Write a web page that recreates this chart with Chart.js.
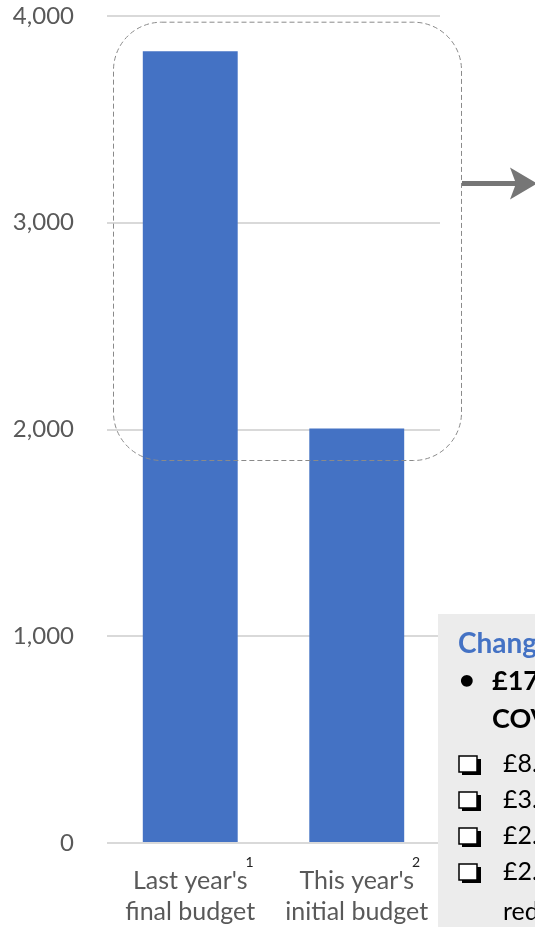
<!DOCTYPE html>
<html>
<head>
<meta charset="utf-8">
<script src="https://cdn.jsdelivr.net/npm/chart.js@4.4.0/dist/chart.umd.min.js"></script>
<style>
  html, body { margin: 0; padding: 0; background: #fff; }
  canvas { display: block; }
</style>
</head>
<body>
<canvas id="budgetChart" width="535" height="927"></canvas>
<script>
// chart data
const categories = [["Last year's", "final budget"], ["This year's", "initial budget"]];
const footnotes = ["1", "2"];
const budgetValues = [3830, 2005];
const yTicks = [0, 1000, 2000, 3000, 4000];

// side note text (runs off the right edge like in the original)
const noteTitle = "Changes this year";
const noteBullet = ["£17.4m less", "COVID-19 funding"];
const noteItems = [["£8.1m savings"], ["£3.2m one-off"], ["£2.5m reserves"], ["£2.1m grant", "reduction"]];

const mainFont = "Lato, 'Noto Sans', sans-serif";
const barBlue = "#4472c4";

// draws footnote marks, the dashed callout, the arrow and the grey note box
const extras = {
  id: "extras",
  afterDraw(chart) {
    const ctx = chart.ctx;
    const x = chart.scales.x;
    const y = chart.scales.y;

    // superscript footnote numbers after the first label line
    ctx.save();
    ctx.fillStyle = "#222";
    ctx.textBaseline = "middle";
    ctx.font = "25px " + mainFont;
    const widths = categories.map(c => ctx.measureText(c[0]).width);
    ctx.font = "14px " + mainFont;
    footnotes.forEach((f, i) => {
      const cx = x.getPixelForTick(i);
      ctx.fillText(f, cx + widths[i] / 2 - 2, 862);
    });
    ctx.restore();

    // dashed rounded callout around the tops of the bars
    const top = y.getPixelForValue(3970);
    const bottom = y.getPixelForValue(1850);
    ctx.save();
    ctx.strokeStyle = "#8a8a8a";
    ctx.lineWidth = 1;
    ctx.setLineDash([5, 3]);
    ctx.beginPath();
    ctx.roundRect(113.5, top, 348, bottom - top, 48);
    ctx.stroke();
    ctx.restore();

    // arrow pointing right
    const ay = y.getPixelForValue(3190);
    ctx.save();
    ctx.strokeStyle = "#767676";
    ctx.fillStyle = "#767676";
    ctx.lineWidth = 5;
    ctx.beginPath();
    ctx.moveTo(462, ay);
    ctx.lineTo(524, ay);
    ctx.stroke();
    ctx.beginPath();
    ctx.moveTo(510, ay - 16);
    ctx.lineTo(537, ay);
    ctx.lineTo(510, ay + 16);
    ctx.lineTo(516, ay);
    ctx.closePath();
    ctx.fill();
    ctx.restore();

    // grey note box, bottom right
    ctx.save();
    ctx.fillStyle = "#ececec";
    ctx.fillRect(438, 614, 97, 313);
    ctx.textBaseline = "alphabetic";
    ctx.font = "bold 28px " + mainFont;
    ctx.fillStyle = barBlue;
    ctx.fillText(noteTitle, 458, 653);
    ctx.fillStyle = "#000";
    ctx.font = "bold 27px " + mainFont;
    ctx.fillText("\u2022", 459, 689);
    ctx.fillText(noteBullet[0], 492, 690);
    ctx.fillText(noteBullet[1], 492, 728);
    ctx.font = "25px " + mainFont;
    let base = 772;
    noteItems.forEach(item => {
      // checkbox with drop shadow
      ctx.fillStyle = "#000";
      ctx.fillRect(462, base - 13, 19, 16);
      ctx.fillStyle = "#fff";
      ctx.fillRect(459, base - 16, 18, 16);
      ctx.strokeStyle = "#000";
      ctx.lineWidth = 1.5;
      ctx.strokeRect(459, base - 16, 18, 16);
      ctx.fillStyle = "#000";
      item.forEach((t, k) => {
        ctx.fillText(t, 503, base + k * 40);
      });
      base += 36;
    });
    ctx.restore();
  }
};

const ctxChart = document.getElementById("budgetChart").getContext("2d");
let budgetChart = new Chart(ctxChart, {
  type: "bar",
  data: {
    labels: categories,
    datasets: [
      {
        label: "Budget",
        data: budgetValues,
        backgroundColor: barBlue,
        borderWidth: 0,
        categoryPercentage: 1,
        barPercentage: 0.57,
      },
    ],
  },
  options: {
    responsive: false,
    animation: false,
    layout: {
      padding: { top: 16, right: 95, bottom: 0, left: 0 },
    },
    plugins: {
      legend: { display: false },
      tooltip: { enabled: false },
    },
    scales: {
      x: {
        grid: { display: false, drawTicks: false },
        border: { display: false },
        ticks: {
          color: "#595959",
          font: { family: mainFont, size: 25, lineHeight: 1.25 },
          padding: 22,
          maxRotation: 0,
          autoSkip: false,
        },
        afterFit(scale) {
          scale.height = 84;
          scale.paddingLeft = 0;
          scale.paddingRight = 0;
        },
      },
      y: {
        min: 0,
        max: 4000,
        afterBuildTicks(scale) {
          scale.ticks = yTicks.map(v => ({ value: v }));
        },
        grid: { color: "#d9d9d9", lineWidth: 2, drawTicks: false },
        border: { display: false },
        ticks: {
          color: "#595959",
          font: { family: mainFont, size: 24 },
          padding: 33,
          callback: v => v.toLocaleString("en-GB"),
        },
        afterFit(scale) {
          scale.width = 107;
          scale.paddingTop = 0;
          scale.paddingBottom = 0;
        },
      },
    },
  },
  plugins: [extras],
});
</script>
</body>
</html>
